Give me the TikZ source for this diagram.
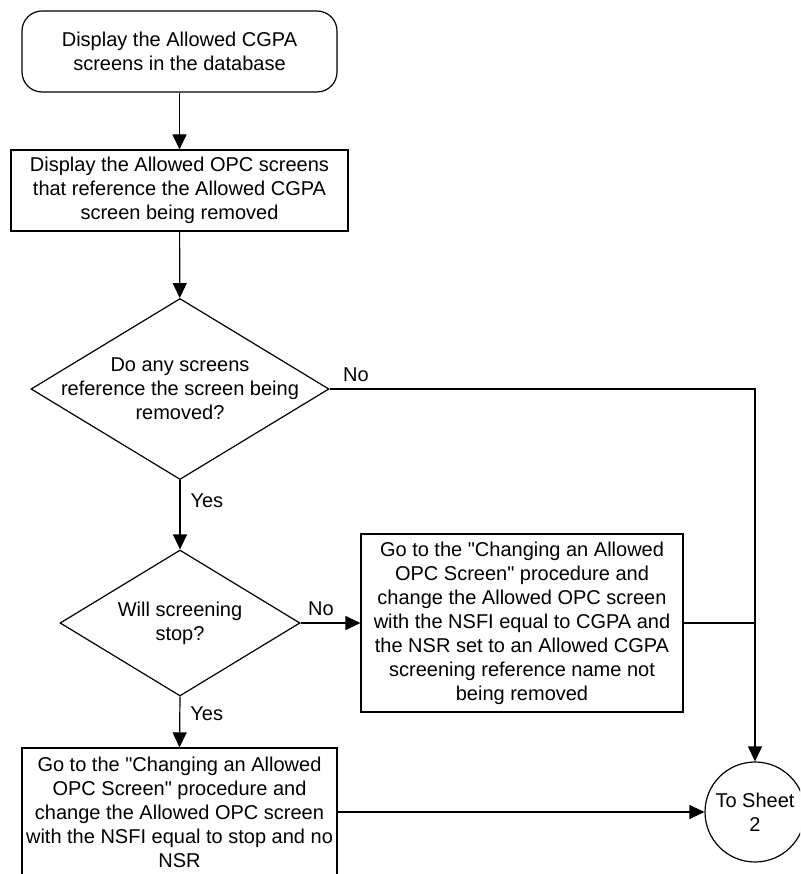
\documentclass[tikz,border=0pt]{standalone}
\usepackage{fontspec}
\setmainfont{Liberation Sans}
\usetikzlibrary{shapes.geometric,arrows.meta}

\begin{document}
\begin{tikzpicture}[x=1pt, y=-1pt, line width=1.2pt,
    every node/.style={font=\fontsize{20pt}{24pt}\selectfont, inner sep=0pt},
    procbox/.style={draw, rectangle, align=center},
    decision/.style={draw, diamond},
    lbl/.style={anchor=south west, draw=none},
    flow/.style={-{Triangle[length=15pt,width=14pt]}}]
    \clip (0,0) rectangle (800,874);
    % steps
    \node[procbox, rounded corners=20pt, minimum width=315pt, minimum height=81pt] (start) at (179.5,51.5)
        {Display the Allowed CGPA\\screens in the database};
    \node[procbox, minimum width=337pt, minimum height=81pt] (list) at (179.5,190.5)
        {Display the Allowed OPC screens\\that reference the Allowed CGPA\\screen being removed};
    \node[decision, minimum width=298pt, minimum height=181pt] (check) at (180,389) {};
    \node[align=center] (checktext) at (check.center)
        {Do any screens\\reference the screen being\\removed?};
    \node[decision, minimum width=240pt, minimum height=146pt] (stop) at (180,623) {};
    \node[align=center] (stoptext) at (stop.center) {Will screening\\stop?};
    \node[procbox, minimum width=322pt, minimum height=178pt] (change) at (522,623)
        {Go to the \textquotedbl Changing an Allowed\\OPC Screen\textquotedbl{} procedure and\\change the Allowed OPC screen\\with the NSFI equal to CGPA and\\the NSR set to an Allowed CGPA\\screening reference name not\\being removed};
    \node[procbox, minimum width=315pt, minimum height=128pt] (remove) at (179.5,812)
        {Go to the \textquotedbl Changing an Allowed\\OPC Screen\textquotedbl{} procedure and\\change the Allowed OPC screen\\with the NSFI equal to stop and no\\NSR};
    \node[draw, circle, minimum size=100pt, align=center] (sheet) at (755,812) {To Sheet\\2};
    % connectors
    \draw[flow] (start) -- (list);
    \draw[flow] (list) -- (check);
    \draw[flow] (check.east) -- node[lbl, pos=0, xshift=13pt, yshift=7pt] (no1) {No}
        (check.east -| sheet.north) -- (sheet.north);
    \draw[flow] (check.south) -- node[pos=0.3, anchor=west, xshift=10pt] (yes1) {Yes} (stop.north);
    \draw[flow] (stop.east) -- node[lbl, pos=0, xshift=7pt, yshift=7pt] (no2) {No} (change.west);
    \draw (change.east) -- (change.east -| sheet.north);
    \draw[flow] (stop.south) -- node[pos=0.33, anchor=west, xshift=10pt] (yes2) {Yes} (remove.north);
    \draw[flow] (remove.east) -- (sheet.west);
\end{tikzpicture}
\end{document}
